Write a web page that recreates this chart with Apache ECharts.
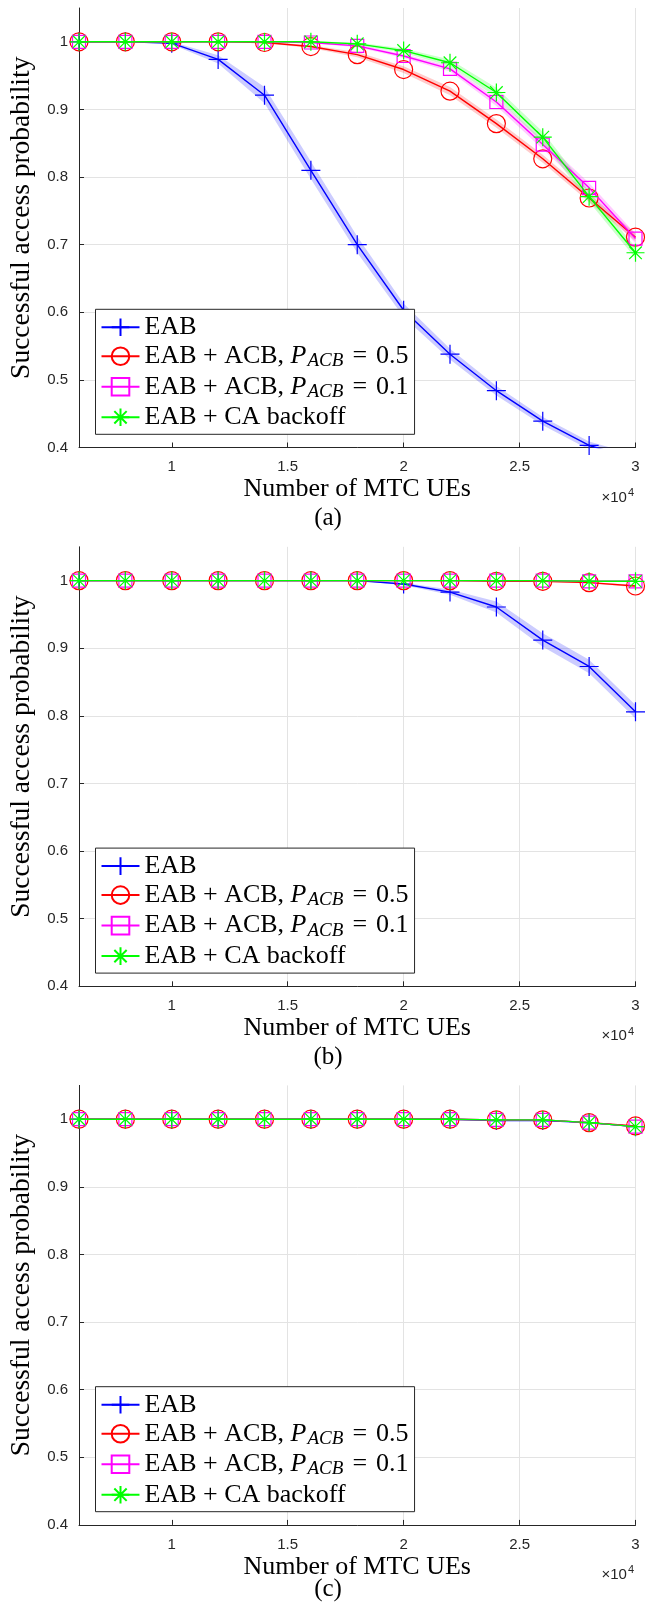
<!DOCTYPE html>
<html>
<head>
<meta charset="utf-8">
<script src="https://cdn.jsdelivr.net/npm/echarts@6/dist/echarts.min.js"></script>
<style>
  html, body { margin: 0; padding: 0; background: #fff; }
  #chart { width: 656px; height: 1606px; }
</style>
</head>
<body>
<div id="chart"></div>
<script>
// Number of MTC UEs (x values shared by every curve)
const ueCounts = [6000, 8000, 10000, 12000, 14000, 16000, 18000, 20000, 22000, 24000, 26000, 28000, 30000];
const xTicks = [10000, 15000, 20000, 25000, 30000];
const yTicks = [0.4, 0.5, 0.6, 0.7, 0.8, 0.9, 1.0];
const seriesNames = ['EAB', 'EAB + ACB, P_ACB = 0.5', 'EAB + ACB, P_ACB = 0.1', 'EAB + CA backoff'];
const panelCaptions = ['(a)', '(b)', '(c)'];

// Panel (a): successful access probability and half-width of the shaded spread
const eabA        = [1.000, 1.000, 0.998, 0.974, 0.921, 0.810, 0.700, 0.603, 0.538, 0.484, 0.439, 0.403, 0.383];
const eabSpreadA  = [0, 0, 0.002, 0.006, 0.012, 0.013, 0.012, 0.010, 0.008, 0.007, 0.006, 0.006, 0.006];
const acb05A      = [1.000, 1.000, 1.000, 1.000, 0.999, 0.993, 0.981, 0.959, 0.927, 0.879, 0.827, 0.769, 0.711];
const acb05SpreadA= [0, 0, 0, 0, 0.001, 0.002, 0.004, 0.005, 0.006, 0.006, 0.006, 0.006, 0.006];
const acb01A      = [1.000, 1.000, 1.000, 1.000, 1.000, 0.999, 0.994, 0.979, 0.960, 0.911, 0.848, 0.784, 0.709];
const acb01SpreadA= [0, 0, 0, 0, 0, 0.001, 0.002, 0.003, 0.004, 0.006, 0.007, 0.007, 0.007];
const caA         = [1.000, 1.000, 1.000, 1.000, 1.000, 1.000, 0.997, 0.987, 0.969, 0.925, 0.859, 0.771, 0.688];
const caSpreadA   = [0, 0, 0, 0, 0, 0.001, 0.002, 0.003, 0.005, 0.007, 0.008, 0.008, 0.008];

// Panel (b)
const eabB        = [1.000, 1.000, 1.000, 1.000, 1.000, 1.000, 1.000, 0.995, 0.983, 0.961, 0.912, 0.873, 0.806];
const eabSpreadB  = [0, 0, 0, 0, 0, 0, 0, 0.002, 0.004, 0.008, 0.010, 0.010, 0.010];
const acb05B      = [1.000, 1.000, 1.000, 1.000, 1.000, 1.000, 1.000, 1.000, 1.000, 0.999, 0.999, 0.997, 0.992];
const acb05SpreadB= [0, 0, 0, 0, 0, 0, 0, 0, 0, 0, 0.001, 0.001, 0.002];
const acb01B      = [1.000, 1.000, 1.000, 1.000, 1.000, 1.000, 1.000, 1.000, 1.000, 1.000, 1.000, 0.999, 0.999];
const acb01SpreadB= [0, 0, 0, 0, 0, 0, 0, 0, 0, 0, 0, 0.001, 0.001];
const caB         = [1.000, 1.000, 1.000, 1.000, 1.000, 1.000, 1.000, 1.000, 1.000, 1.000, 1.000, 0.999, 0.999];
const caSpreadB   = [0, 0, 0, 0, 0, 0, 0, 0, 0, 0, 0, 0.001, 0.001];

// Panel (c)
const eabC        = [1.000, 1.000, 1.000, 1.000, 1.000, 1.000, 1.000, 1.000, 1.000, 0.998, 0.998, 0.995, 0.989];
const acb05C      = [1.000, 1.000, 1.000, 1.000, 1.000, 1.000, 1.000, 1.000, 1.000, 0.999, 0.999, 0.995, 0.990];
const acb01C      = [1.000, 1.000, 1.000, 1.000, 1.000, 1.000, 1.000, 1.000, 1.000, 0.999, 0.999, 0.995, 0.989];
const caC         = [1.000, 1.000, 1.000, 1.000, 1.000, 1.000, 1.000, 1.000, 1.000, 0.999, 0.999, 0.995, 0.989];
const spreadC     = [0, 0, 0, 0, 0, 0, 0, 0, 0, 0, 0, 0.001, 0.001];

const panels = [
  { curves: [eabA, acb05A, acb01A, caA], spreads: [eabSpreadA, acb05SpreadA, acb01SpreadA, caSpreadA] },
  { curves: [eabB, acb05B, acb01B, caB], spreads: [eabSpreadB, acb05SpreadB, acb01SpreadB, caSpreadB] },
  { curves: [eabC, acb05C, acb01C, caC], spreads: [spreadC, spreadC, spreadC, spreadC] }
];

// Styling
const colors = ['#0000ff', '#ff0000', '#ff00ff', '#00ff00'];
const bandColors = ['rgba(0,0,255,0.2)', 'rgba(255,0,0,0.2)', 'rgba(255,0,255,0.2)', 'rgba(0,255,0,0.2)'];
const symbols = [
  'path://M0,10L20,10M10,0L10,20',
  'circle',
  'rect',
  'path://M0,10L20,10M10,0L10,20M3,3L17,17M3,17L17,3'
];
const symbolSizes = [19, 18, 13, 18];
const serif = "'Liberation Serif', 'DejaVu Serif', serif";
const sans = "'Liberation Sans', Arial, sans-serif";
const axisColor = '#262626';

const gridLeft = 79, gridRight = 20.5, gridHeight = 439.5;
const panelTops = [8, 546.8, 1085.4];
const captionOffsets = [71, 71, 65];

const legendLabels = {
  'EAB': 'EAB',
  'EAB + ACB, P_ACB = 0.5': 'EAB + ACB, {i|P}{s|ACB}{e|=}0.5',
  'EAB + ACB, P_ACB = 0.1': 'EAB + ACB, {i|P}{s|ACB}{e|=}0.1',
  'EAB + CA backoff': 'EAB + CA backoff'
};

// Shaded spread around a curve: polygon through upper bounds, back along lower bounds
function bandSeries(p, vals, spread, color) {
  return {
    type: 'custom', xAxisIndex: p, yAxisIndex: p, silent: true, z: 1,
    data: [[ueCounts[0], vals[0]]],
    renderItem: (params, api) => {
      const upper = ueCounts.map((x, i) => api.coord([x, vals[i] + spread[i]]));
      const lower = ueCounts.map((x, i) => api.coord([x, vals[i] - spread[i]])).reverse();
      const cs = params.coordSys;
      return {
        type: 'group',
        clipPath: { type: 'rect', shape: { x: cs.x, y: cs.y, width: cs.width, height: cs.height } },
        children: [{
          type: 'polygon',
          shape: { points: upper.concat(lower) },
          style: { fill: color, stroke: null }
        }]
      };
    }
  };
}

const grids = [], xAxes = [], yAxes = [], series = [], legends = [], graphics = [];

panelTops.forEach((top, p) => {
  grids.push({ left: gridLeft, right: gridRight, top: top, height: gridHeight, containLabel: false });

  xAxes.push({
    type: 'value', gridIndex: p, min: 6000, max: 30000,
    name: 'Number of MTC UEs', nameLocation: 'middle', nameGap: 29,
    nameTextStyle: { fontFamily: serif, fontSize: 26, color: '#000' },
    axisLine: { show: true, onZero: false, lineStyle: { color: axisColor, width: 1 } },
    axisTick: { show: true, inside: true, length: 5, customValues: xTicks, lineStyle: { color: axisColor } },
    axisLabel: {
      show: true, margin: 12, customValues: xTicks,
      fontFamily: sans, fontSize: 15, color: axisColor,
      formatter: v => String(v / 10000)
    },
    splitLine: { show: true, showMinLine: false, lineStyle: { color: '#e3e3e3', width: 1 } }
  });

  yAxes.push({
    type: 'value', gridIndex: p, min: 0.4, max: 1.05,
    name: 'Successful access probability', nameLocation: 'middle', nameRotate: 90, nameGap: 42,
    nameTextStyle: { fontFamily: serif, fontSize: 27.5, color: '#000', padding: [0, 0, 0, 20] },
    axisLine: { show: true, onZero: false, lineStyle: { color: axisColor, width: 1 } },
    axisTick: { show: true, inside: true, length: 5, customValues: yTicks, lineStyle: { color: axisColor } },
    axisLabel: {
      show: true, margin: 11, customValues: yTicks,
      fontFamily: sans, fontSize: 15, color: axisColor,
      formatter: v => (Math.abs(v - 1) < 1e-9 ? '1' : v.toFixed(1))
    },
    splitLine: { show: true, showMaxLine: false, lineStyle: { color: '#e3e3e3', width: 1 } }
  });

  const panel = panels[p];
  // shaded spread bands, drawn below the curves
  panel.curves.forEach((vals, k) => {
    series.push(bandSeries(p, vals, panel.spreads[k], bandColors[k]));
  });
  // curves with markers
  panel.curves.forEach((vals, k) => {
    series.push({
      type: 'line', name: seriesNames[k], xAxisIndex: p, yAxisIndex: p,
      data: ueCounts.map((x, i) => [x, vals[i]]),
      symbol: symbols[k], symbolSize: symbolSizes[k], showAllSymbol: true,
      lineStyle: { color: colors[k], width: 1.4 },
      itemStyle: { color: 'rgba(0,0,0,0)', borderColor: colors[k], borderWidth: 1.2 },
      z: 3 + k, emphasis: { disabled: true }
    });
  });

  legends.push({
    orient: 'vertical', left: 95.5, top: top + 301.3,
    data: seriesNames, selectedMode: false,
    itemWidth: 38, itemHeight: 22, itemGap: 3,
    padding: [5, 6, 4, 5],
    backgroundColor: '#fff', borderColor: axisColor, borderWidth: 1, borderRadius: 0,
    formatter: name => legendLabels[name],
    textStyle: {
      fontFamily: serif, fontSize: 26, color: '#000', lineHeight: 26,
      rich: {
        i: { fontFamily: serif, fontSize: 26, fontStyle: 'italic', color: '#000', padding: [0, 1, 0, 0] },
        s: { fontFamily: serif, fontSize: 19, fontStyle: 'italic', color: '#000', padding: [10, 0, 0, 0] },
        e: { fontFamily: serif, fontSize: 26, color: '#000', padding: [0, 9, 0, 9] }
      }
    }
  });

  const bottom = top + gridHeight;
  graphics.push({
    type: 'text', x: 634, y: bottom + 50,
    style: {
      text: '×10{s|4}', fontFamily: sans, fontSize: 15, fill: axisColor,
      align: 'right', verticalAlign: 'middle',
      rich: { s: { fontFamily: sans, fontSize: 11, fill: axisColor, padding: [0, 0, 9, 1] } }
    }
  });
  graphics.push({
    type: 'text', x: 328, y: bottom + captionOffsets[p],
    style: {
      text: panelCaptions[p], fontFamily: serif, fontSize: 25, fill: '#000',
      align: 'center', verticalAlign: 'middle'
    }
  });
});

const chart = echarts.init(document.getElementById('chart'), null, { renderer: 'canvas' });
chart.setOption({
  animation: false,
  backgroundColor: '#fff',
  grid: grids,
  xAxis: xAxes,
  yAxis: yAxes,
  legend: legends,
  series: series,
  graphic: graphics
});
</script>
</body>
</html>
